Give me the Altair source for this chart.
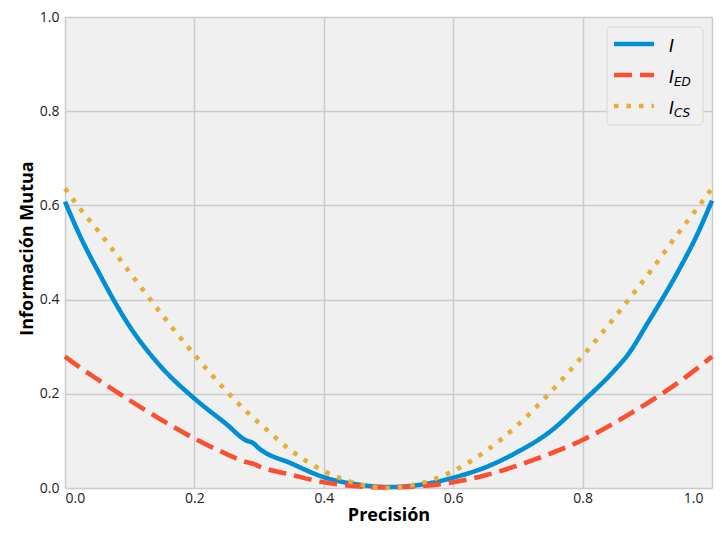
import altair as alt
import pandas as pd

# Precision values (x)
precision = [0, 0.025, 0.05, 0.1, 0.15, 0.2, 0.25, 0.28, 0.29, 0.3, 0.35, 0.4, 0.45,
             0.5, 0.55, 0.6, 0.65, 0.7, 0.75, 0.8, 0.85, 0.87, 0.9, 0.95, 0.975, 1.0]
# Series values
info_I = [0.608, 0.53, 0.463, 0.343, 0.255, 0.19, 0.135, 0.101, 0.096, 0.084, 0.052, 0.023, 0.008,
          0.002, 0.007, 0.022, 0.044, 0.077, 0.12, 0.183, 0.251, 0.283, 0.349, 0.466, 0.532, 0.61]
info_ED = [0.279, 0.254, 0.231, 0.186, 0.144, 0.105, 0.072, 0.055, 0.052, 0.046, 0.028, 0.012, 0.004,
           0.001, 0.004, 0.012, 0.027, 0.048, 0.073, 0.102, 0.139, 0.155, 0.18, 0.226, 0.252, 0.279]
info_CS = [0.636, 0.59, 0.548, 0.458, 0.368, 0.283, 0.205, 0.163, 0.15, 0.138, 0.079, 0.036, 0.01,
           0.0, 0.01, 0.036, 0.078, 0.134, 0.203, 0.28, 0.363, 0.398, 0.451, 0.545, 0.59, 0.636]

series_names = ["I", "I_ED", "I_CS"]
series_subs = ["", "ED", "CS"]
series_colors = ["#008fd5", "#fc4f30", "#e5ae38"]
series_dashes = [[1, 0], [18, 8], [4.5, 8]]
tick_values = [0.0, 0.2, 0.4, 0.6, 0.8, 1.0]

rows = []
for name, vals in zip(series_names, [info_I, info_ED, info_CS]):
    for p, v in zip(precision, vals):
        rows.append({"Precisión": p, "value": v, "series": name})
df = pd.DataFrame(rows)

W, H = 647, 471

lines = alt.Chart(df).mark_line(strokeWidth=4.6, strokeCap="butt", interpolate="monotone").encode(
    x=alt.X("Precisión:Q", scale=alt.Scale(domain=[0, 1], nice=False, zero=False),
            axis=alt.Axis(values=tick_values, format=".1f", title="Precisión",
                          titleY=32, titleBaseline="alphabetic",
                          labelOffset=alt.condition("datum.value === 1", alt.value(-9), alt.value(0)))),
    y=alt.Y("value:Q", scale=alt.Scale(domain=[0, 1], nice=False),
            axis=alt.Axis(values=tick_values, format=".1f", title="Información Mutua",
                          titleX=-33, titleY=231, titleBaseline="alphabetic", titleAlign="center")),
    color=alt.Color("series:N", scale=alt.Scale(domain=series_names, range=series_colors), legend=None),
    strokeDash=alt.StrokeDash("series:N", scale=alt.Scale(domain=series_names, range=series_dashes), legend=None),
    detail="series:N",
)

# Manual legend (box, symbols, math-style labels)
leg_box = alt.Chart(pd.DataFrame({"a": [0]})).mark_rect(
    fill="#f0f0f0", stroke="#d6d6d6", strokeWidth=1, cornerRadius=4
).encode(x=alt.value(542), x2=alt.value(638), y=alt.value(10), y2=alt.value(108))

layers = [lines, leg_box]
row_y = [27, 58, 89]
for i, (name, sub, col, dash) in enumerate(zip(series_names, series_subs, series_colors, series_dashes)):
    ry = row_y[i]
    sym = alt.Chart(pd.DataFrame({"a": [0]})).mark_rule(
        color=col, strokeWidth=4.6, strokeDash=dash, strokeCap="butt"
    ).encode(x=alt.value(549), x2=alt.value(589), y=alt.value(ry))
    main = alt.Chart(pd.DataFrame({"t": ["I"]})).mark_text(
        font="DejaVu Sans", fontStyle="italic", fontSize=17, color="#000", align="left",
        baseline="alphabetic"
    ).encode(text="t:N", x=alt.value(604), y=alt.value(ry + 8))
    layers += [sym, main]
    if sub:
        s = alt.Chart(pd.DataFrame({"t": [sub]})).mark_text(
            font="DejaVu Sans", fontStyle="italic", fontSize=12, color="#000", align="left",
            baseline="alphabetic"
        ).encode(text="t:N", x=alt.value(609), y=alt.value(ry + 11))
        layers.append(s)

chart = alt.layer(*layers).properties(
    width=W, height=H,
    autosize=alt.AutoSizeParams(type="none"),
    padding={"left": 57, "top": 9, "right": 2, "bottom": 37},
    background="white",
).configure_view(
    fill="#f0f0f0", stroke=None
).configure_axis(
    domain=False, ticks=False,
    grid=True, gridColor="#cbcbcb", gridWidth=1.5,
    labelFont="Open Sans", labelFontSize=14, labelColor="#222",
    titleFont="Open Sans", titleFontSize=18, titleFontWeight="bold", titleColor="#000",
).configure_axisX(
    labelPadding=3
).configure_axisY(
    labelPadding=6
)

chart.save("out.html", embed_options={"renderer": "svg", "actions": False})
